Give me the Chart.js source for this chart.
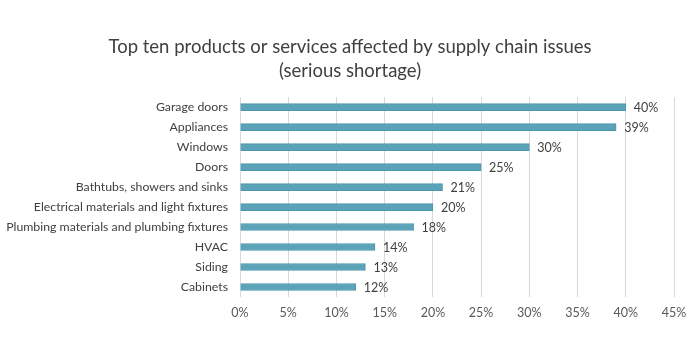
<!DOCTYPE html>
<html>
<head>
<meta charset="utf-8">
<script src="https://cdn.jsdelivr.net/npm/chart.js@4"></script>
<style>
  html, body { margin: 0; padding: 0; background: #fff; }
  #wrap { width: 700px; height: 350px; }
</style>
</head>
<body>
<div id="wrap"><canvas id="shortageChart" width="700" height="350"></canvas></div>
<script>
const categories = ['Garage doors', 'Appliances', 'Windows', 'Doors', 'Bathtubs, showers and sinks',
  'Electrical materials and light fixtures', 'Plumbing materials and plumbing fixtures', 'HVAC', 'Siding', 'Cabinets'];
const shortagePct = [40, 39, 30, 25, 21, 20, 18, 14, 13, 12];
const titleLines = ['Top ten products or services affected by supply chain issues', '(serious shortage)'];

/* value labels at the end of each bar */
const endLabels = {
  id: 'endLabels',
  afterDatasetsDraw(chart) {
    const ctx = chart.ctx;
    const meta = chart.getDatasetMeta(0);
    ctx.save();
    ctx.font = '12.5px Lato';
    ctx.fillStyle = '#404040';
    ctx.textBaseline = 'middle';
    ctx.textAlign = 'left';
    meta.data.forEach((bar, i) => {
      ctx.fillText(shortagePct[i] + '%', bar.x + 8, bar.y + 1);
    });
    ctx.restore();
  }
};

new Chart(document.getElementById('shortageChart'), {
  type: 'bar',
  data: {
    labels: categories,
    datasets: [{
      data: shortagePct,
      backgroundColor: '#5ba3b9',
      borderColor: '#4b95ac',
      borderWidth: 1,
      barThickness: 7
    }]
  },
  options: {
    indexAxis: 'y',
    responsive: false,
    animation: false,
    layout: { padding: 0 },
    plugins: {
      legend: { display: false },
      tooltip: { enabled: false },
      title: {
        display: true,
        text: titleLines,
        color: '#404040',
        font: { family: 'Lato', size: 18.5, weight: 'normal', lineHeight: 1.3 },
        padding: { top: 35, bottom: 14 }
      }
    },
    scales: {
      x: {
        min: 0,
        max: 45,
        border: { display: false },
        grid: { color: '#d9d9d9', drawTicks: false },
        ticks: {
          stepSize: 5,
          padding: 8,
          color: '#595959',
          font: { family: 'Lato', size: 12.5 },
          callback: v => v + '%'
        },
        afterFit(scale) { scale.height = 53; }
      },
      y: {
        border: { display: false },
        grid: { display: false, drawTicks: false },
        ticks: {
          padding: 12,
          color: '#404040',
          font: { family: 'Lato', size: 12.3 }
        },
        afterFit(scale) { scale.width = 240; }
      },
      // empty right margin so the plot ends where the reference does
      yRight: {
        type: 'category',
        position: 'right',
        border: { display: false },
        grid: { display: false, drawTicks: false },
        ticks: { display: false },
        afterFit(scale) { scale.width = 26; }
      }
    }
  },
  plugins: [endLabels]
});
</script>
</body>
</html>
